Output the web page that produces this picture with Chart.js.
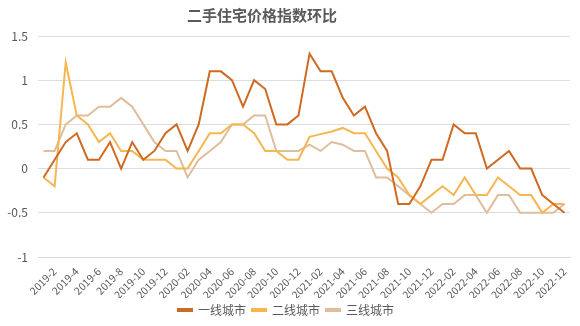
<!DOCTYPE html>
<html>
<head>
<meta charset="utf-8">
<script src="https://cdn.jsdelivr.net/npm/chart.js@4"></script>
<style>
html,body{margin:0;padding:0;background:#fff;}
#wrap{width:580px;height:326px;}
</style>
</head>
<body>
<div id="wrap"><canvas id="c" width="580" height="326"></canvas></div>
<script>
const months = [
  "2019-1","2019-2","2019-3","2019-4","2019-5","2019-6","2019-7","2019-8","2019-9","2019-10","2019-11","2019-12",
  "2020-01","2020-02","2020-03","2020-04","2020-05","2020-06","2020-07","2020-08","2020-09","2020-10","2020-11","2020-12",
  "2021-01","2021-02","2021-03","2021-04","2021-05","2021-06","2021-07","2021-08","2021-09","2021-10","2021-11","2021-12",
  "2022-01","2022-02","2022-03","2022-04","2022-05","2022-06","2022-07","2022-08","2022-09","2022-10","2022-11","2022-12"
];
const tier1 = [
  -0.1, 0.1, 0.3, 0.4, 0.1, 0.1, 0.3, 0.0, 0.3, 0.1, 0.2, 0.4,
  0.5, 0.2, 0.5, 1.1, 1.1, 1.0, 0.7, 1.0, 0.9, 0.5, 0.5, 0.6,
  1.3, 1.1, 1.1, 0.8, 0.6, 0.7, 0.4, 0.2, -0.4, -0.4, -0.2, 0.1,
  0.1, 0.5, 0.4, 0.4, 0.0, 0.1, 0.2, 0.0, 0.0, -0.3, -0.4, -0.5
];
const tier2 = [
  -0.1, -0.2, 1.2, 0.6, 0.5, 0.3, 0.4, 0.2, 0.2, 0.1, 0.1, 0.1,
  0.0, 0.0, 0.2, 0.4, 0.4, 0.5, 0.5, 0.4, 0.2, 0.2, 0.1, 0.1,
  0.36, 0.39, 0.42, 0.46, 0.4, 0.4, 0.2, 0.0, -0.1, -0.3, -0.4, -0.3,
  -0.2, -0.3, -0.1, -0.3, -0.3, -0.1, -0.2, -0.3, -0.3, -0.5, -0.4, -0.4
];
const tier3 = [
  0.2, 0.2, 0.5, 0.6, 0.6, 0.7, 0.7, 0.8, 0.7, 0.5, 0.3, 0.2,
  0.2, -0.1, 0.1, 0.2, 0.3, 0.5, 0.5, 0.6, 0.6, 0.2, 0.2, 0.2,
  0.27, 0.2, 0.3, 0.27, 0.2, 0.2, -0.1, -0.1, -0.2, -0.3, -0.4, -0.5,
  -0.4, -0.4, -0.3, -0.3, -0.5, -0.3, -0.3, -0.5, -0.5, -0.5, -0.5, -0.4
];
const seriesNames = ["一线城市", "二线城市", "三线城市"];
const yTicks = [-1, -0.5, 0, 0.5, 1, 1.5];
const titleText = "二手住宅价格指数环比";

const colors = ["#CF6A22", "#F6B651", "#DFBE9E"];
const txt = "#595959";
const fam = "'Noto Sans CJK SC', 'Liberation Sans', sans-serif";

const titlePlugin = {
  id: 'offsetTitle',
  afterDraw(chart) {
    const ctx = chart.ctx;
    ctx.save();
    ctx.font = "bold 15px " + fam;
    ctx.fillStyle = txt;
    ctx.textAlign = 'center';
    ctx.textBaseline = 'middle';
    ctx.fillText(titleText, 262, 15);
    ctx.restore();
  }
};

new Chart(document.getElementById('c'), {
  type: 'line',
  data: {
    labels: months,
    datasets: [tier1, tier2, tier3].map((d, i) => ({
      label: seriesNames[i],
      data: d,
      borderColor: colors[i],
      backgroundColor: colors[i],
      borderWidth: 2,
      pointRadius: 0,
      pointHoverRadius: 0,
      tension: 0,
      fill: false
    }))
  },
  plugins: [titlePlugin],
  options: {
    responsive: false,
    animation: false,
    devicePixelRatio: 1,
    layout: { padding: { left: 2, right: 10, top: 2, bottom: 0 } },
    plugins: {
      title: {
        display: true,
        text: titleText,
        color: 'rgba(0,0,0,0)',
        font: { family: fam, size: 15, weight: 'bold' },
        padding: { top: 2, bottom: 14 }
      },
      legend: {
        position: 'bottom',
        labels: {
          boxWidth: 14,
          boxHeight: 2,
          color: txt,
          font: { family: fam, size: 12 },
          padding: 6
        }
      },
      tooltip: { enabled: false }
    },
    scales: {
      x: {
        offset: true,
        grid: { display: false },
        border: { color: '#D9D9D9' },
        ticks: {
          autoSkip: false,
          maxRotation: 45,
          minRotation: 45,
          color: txt,
          font: { family: fam, size: 10.5 },
          padding: 0,
          callback: function(v, i) { return i % 2 === 1 ? months[i] : ''; }
        },
        afterFit: function(s) { s.height = 41; }
      },
      y: {
        min: -1,
        max: 1.5,
        afterBuildTicks: function(s) { s.ticks = yTicks.map(v => ({ value: v })); },
        grid: { color: '#DDDDDD', lineWidth: 1, drawTicks: false },
        border: { display: false },
        ticks: {
          color: txt,
          font: { family: fam, size: 12 },
          padding: 10,
          callback: function(v) { return String(v); }
        },
        afterFit: function(s) { s.width = 36; }
      }
    }
  }
});
</script>
</body>
</html>
